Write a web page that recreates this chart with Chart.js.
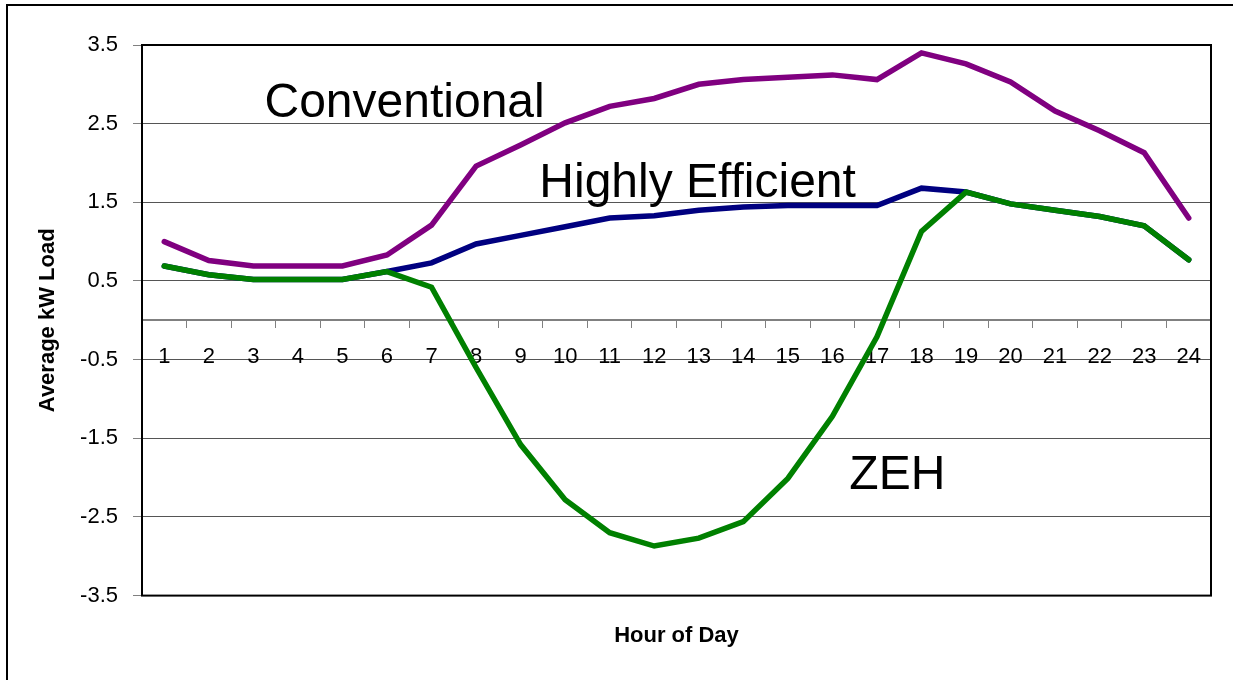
<!DOCTYPE html>
<html>
<head>
<meta charset="utf-8">
<script src="https://cdn.jsdelivr.net/npm/chart.js@4.4.0/dist/chart.umd.min.js"></script>
<style>
  html, body { margin: 0; padding: 0; background: #fff; }
  canvas { display: block; }
</style>
</head>
<body>
<canvas id="myChart" width="1233" height="680"></canvas>
<script>
// hours of the day
const hours = ['1', '2', '3', '4', '5', '6', '7', '8', '9', '10', '11', '12',
  '13', '14', '15', '16', '17', '18', '19', '20', '21', '22', '23', '24'];

// average kW load per hour
const conventional = [1.00, 0.76, 0.69, 0.69, 0.69, 0.83, 1.21, 1.96, 2.23, 2.51, 2.72, 2.82,
  3.00, 3.06, 3.09, 3.12, 3.06, 3.40, 3.26, 3.03, 2.66, 2.41, 2.13, 1.30];
const highlyEfficient = [0.69, 0.58, 0.52, 0.52, 0.52, 0.62, 0.73, 0.97, 1.08, 1.19, 1.30, 1.33,
  1.40, 1.44, 1.46, 1.46, 1.46, 1.68, 1.63, 1.48, 1.40, 1.32, 1.20, 0.77];
const zeh = [0.69, 0.58, 0.52, 0.52, 0.52, 0.62, 0.42, -0.60, -1.58, -2.28, -2.70, -2.87,
  -2.77, -2.56, -2.01, -1.22, -0.21, 1.13, 1.63, 1.48, 1.40, 1.32, 1.20, 0.77];

const yTickValues = [-3.5, -2.5, -1.5, -0.5, 0.5, 1.5, 2.5, 3.5];

// where the series names sit (category index, value)
const nameSpots = [
  { text: 'Conventional', at: [2.25, 2.58] },
  { text: 'Highly Efficient', at: [8.42, 1.57] },
  { text: 'ZEH', at: [15.38, -2.15] }
];

const FONT = '"Liberation Sans", Arial, sans-serif';
Chart.defaults.font.family = FONT;
Chart.defaults.color = '#000';

const frame = {
  id: 'frame',
  beforeDraw(chart) {
    const c = chart.ctx;
    c.save();
    c.fillStyle = '#fff';
    c.fillRect(0, 0, chart.width, chart.height);
    c.strokeStyle = '#000';
    c.lineWidth = 2;
    c.strokeRect(7, 5, chart.width + 20, chart.height + 20);
    c.restore();
  },
  afterDraw(chart) {
    const a = chart.chartArea;
    const c = chart.ctx;
    c.save();
    c.strokeStyle = '#000';
    c.lineWidth = 2;
    c.strokeRect(a.left, a.top, a.right - a.left, a.bottom - a.top);
    c.restore();
  }
};

const seriesNames = {
  id: 'seriesNames',
  afterDatasetsDraw(chart) {
    const c = chart.ctx;
    const xs = chart.scales.x, ys = chart.scales.y;
    c.save();
    c.font = '48px ' + FONT;
    c.fillStyle = '#000';
    c.textBaseline = 'alphabetic';
    c.textAlign = 'left';
    nameSpots.forEach(s => {
      c.fillText(s.text, xs.getPixelForValue(s.at[0]), ys.getPixelForValue(s.at[1]));
    });
    c.restore();
  }
};

const ctx = document.getElementById('myChart').getContext('2d');

new Chart(ctx, {
  type: 'line',
  data: {
    labels: hours,
    datasets: [
      { label: 'ZEH', data: zeh, borderColor: '#008000', order: 0 },
      { label: 'Highly Efficient', data: highlyEfficient, borderColor: '#000080', order: 1 },
      { label: 'Conventional', data: conventional, borderColor: '#800080', order: 2 }
    ]
  },
  options: {
    responsive: false,
    animation: false,
    layout: { padding: { left: 0, top: 45, right: 22, bottom: 31 } },
    elements: {
      line: { borderWidth: 5.5, tension: 0, borderCapStyle: 'round', fill: false },
      point: { radius: 0, hoverRadius: 0 }
    },
    plugins: {
      legend: { display: false },
      tooltip: { enabled: false },
      title: {
        display: true,
        position: 'bottom',
        fullSize: false,
        text: 'Hour of Day',
        color: '#000',
        font: { size: 22, weight: 'bold' },
        padding: { top: 27, bottom: 0 }
      }
    },
    scales: {
      x: {
        type: 'category',
        position: { y: 0 },
        offset: true,
        grid: {
          drawOnChartArea: false,
          offset: true,
          tickLength: 7,
          tickColor: '#808080',
          tickWidth: 1
        },
        border: { display: true, color: '#808080', width: 2 },
        ticks: {
          autoSkip: false,
          maxRotation: 0,
          padding: 16,
          color: '#000',
          font: { size: 22 }
        }
      },
      y: {
        min: -3.5,
        max: 3.5,
        afterBuildTicks(scale) {
          scale.ticks = yTickValues.map(v => ({ value: v }));
        },
        afterFit(scale) { scale.width = 142; },
        grid: {
          color: '#555',
          lineWidth: 1,
          tickLength: 9,
          tickColor: '#808080'
        },
        border: { display: true, color: '#000', width: 2 },
        ticks: {
          padding: 15,
          color: '#000',
          font: { size: 22 },
          callback: v => v.toFixed(1)
        },
        title: {
          display: true,
          text: 'Average kW Load',
          color: '#000',
          font: { size: 22, weight: 'bold' },
          padding: { top: 35, bottom: 0 }
        }
      }
    }
  },
  plugins: [frame, seriesNames]
});
</script>
</body>
</html>
